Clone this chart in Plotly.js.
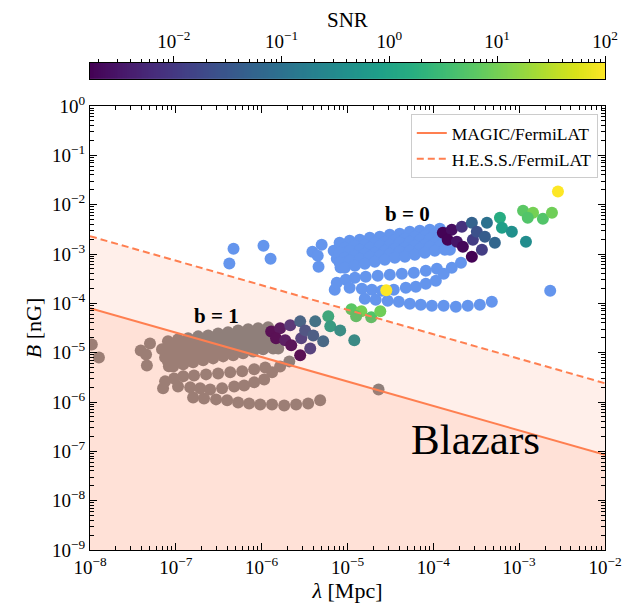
<!DOCTYPE html>
<html><head><meta charset="utf-8">
<script src="https://cdn.plot.ly/plotly-3.0.1.min.js"></script>
<style>html,body{margin:0;padding:0;background:#fff}#chart{width:628px;height:606px}</style>
</head><body><div id="chart"></div>
<script>
// ---------- data: b = 0 (no SNR, drawn in flat blue) ----------
const b0BlueLam = [
4.7e-7,4.2e-7,1.05e-6,1.27e-6,3.9e-6,5.0e-6,4.5e-6,4.6e-6,7.1e-6,2.3e-3,4.8e-4,
6.9e-6,7.5e-6,8.3e-6,1.56e-4,
8.1e-6,1.06e-5,1.39e-5,1.82e-5,2.38e-5,3.11e-5,4.06e-5,5.32e-5,6.96e-5,9.1e-5,1.19e-4,
9.3e-6,1.22e-5,1.59e-5,2.08e-5,2.72e-5,3.56e-5,4.66e-5,6.08e-5,7.96e-5,1.04e-4,1.36e-4,
8.1e-6,1.06e-5,1.39e-5,1.82e-5,2.38e-5,3.11e-5,4.06e-5,5.32e-5,6.96e-5,9.1e-5,1.19e-4,
9.3e-6,1.22e-5,1.59e-5,2.08e-5,2.72e-5,3.56e-5,4.66e-5,6.08e-5,7.96e-5,1.04e-4,1.36e-4,
8.1e-6,1.06e-5,1.39e-5,1.82e-5,2.38e-5,3.11e-5,4.06e-5,5.32e-5,6.96e-5,9.1e-5,1.19e-4,
9.3e-6,1.22e-5,1.59e-5,2.08e-5,2.72e-5,3.56e-5,4.66e-5,6.08e-5,7.96e-5,1.04e-4,1.36e-4,
7.5e-6,9.55e-6,1.22e-5,1.63e-5,2.25e-5,3.11e-5,4.3e-5,5.93e-5,8.18e-5,1.1e-4,
1.06e-5,1.47e-5,1.92e-5,2.51e-5,3.46e-5,4.78e-5,6.25e-5,8.18e-5,1.07e-4,1.32e-4,1.64e-4,2.1e-4,
1.59e-5,2.13e-5,2.94e-5,3.96e-5,5.32e-5,7.14e-5,9.62e-5,1.32e-4,1.83e-4,2.52e-4,3.48e-4];
const b0BlueB = [
1.28e-3,6.4e-4,1.47e-3,8.0e-4,1.11e-3,1.54e-3,9.2e-4,5.5e-4,1.89e-4,1.8e-4,1.08e-4,
1.17e-3,8.0e-4,5.3e-4,1.22e-3,
1.70e-3,1.86e-3,1.95e-3,2.14e-3,2.24e-3,2.46e-3,2.58e-3,2.83e-3,2.97e-3,3.11e-3,3.26e-3,
1.34e-3,1.47e-3,1.54e-3,1.70e-3,1.78e-3,1.95e-3,2.04e-3,2.24e-3,2.35e-3,2.58e-3,2.70e-3,
1.06e-3,1.17e-3,1.22e-3,1.34e-3,1.47e-3,1.54e-3,1.70e-3,1.78e-3,1.95e-3,2.04e-3,2.24e-3,
8.41e-4,9.24e-4,1.01e-3,1.06e-3,1.17e-3,1.28e-3,1.34e-3,1.47e-3,1.54e-3,1.70e-3,1.86e-3,
6.66e-4,7.31e-4,8.03e-4,8.82e-4,9.24e-4,1.01e-3,1.11e-3,1.17e-3,1.28e-3,1.41e-3,1.47e-3,
5.27e-4,5.79e-4,6.36e-4,6.98e-4,7.66e-4,8.41e-4,8.82e-4,9.68e-4,1.06e-3,1.17e-3,1.22e-3,
2.62e-4,3.01e-4,3.31e-4,3.46e-4,3.63e-4,3.80e-4,3.99e-4,4.18e-4,4.59e-4,5.03e-4,
2.07e-4,1.98e-4,1.89e-4,1.80e-4,1.89e-4,2.07e-4,2.17e-4,2.50e-4,2.87e-4,3.99e-4,5.27e-4,6.66e-4,
1.24e-4,1.18e-4,1.13e-4,1.08e-4,9.81e-5,9.37e-5,8.94e-5,8.94e-5,8.53e-5,8.94e-5,9.37e-5];

// ---------- data: b = 0 with SNR ----------
const b0SnrLam = [1.29e-4,1.64e-4,2.15e-4,2.81e-4,4.21e-4,5.97e-4,6.30e-4,8.22e-4,1.20e-3,1.11e-3,1.45e-3,1.26e-3,1.89e-3,2.41e-3,2.83e-3,1.47e-4,1.88e-4,2.21e-4,2.81e-4,3.68e-4,2.89e-4,3.21e-4,3.99e-4,5.21e-4];
const b0SnrB   = [2.70e-3,3.11e-3,3.58e-3,4.31e-3,4.31e-3,5.45e-3,3.42e-3,2.83e-3,1.78e-3,7.55e-3,6.88e-3,5.45e-3,5.20e-3,6.88e-3,1.84e-2,1.95e-3,1.78e-3,1.41e-3,8.82e-4,1.22e-3,1.95e-3,2.83e-3,2.24e-3,1.70e-3];
const b0Snr    = [0.0018,0.0025,0.008,0.05,0.1,1.5,0.8,0.4,0.35,6,10,5,5,9,100,0.0018,0.003,0.002,0.0017,0.012,0.012,0.025,0.04,0.06];

// ---------- data: b = 1 (no SNR, drawn in grey) ----------
const b1GreyLam = [
4.7e-9,4.2e-9,1.05e-8,1.27e-8,3.9e-8,5.0e-8,4.5e-8,4.6e-8,7.1e-8,2.3e-5,4.8e-6,
6.9e-8,7.5e-8,8.3e-8,1.56e-6,
8.1e-8,1.06e-7,1.39e-7,1.82e-7,2.38e-7,3.11e-7,4.06e-7,5.32e-7,6.96e-7,9.1e-7,1.19e-6,
9.3e-8,1.22e-7,1.59e-7,2.08e-7,2.72e-7,3.56e-7,4.66e-7,6.08e-7,7.96e-7,1.04e-6,1.36e-6,
8.1e-8,1.06e-7,1.39e-7,1.82e-7,2.38e-7,3.11e-7,4.06e-7,5.32e-7,6.96e-7,9.1e-7,1.19e-6,
9.3e-8,1.22e-7,1.59e-7,2.08e-7,2.72e-7,3.56e-7,4.66e-7,6.08e-7,7.96e-7,1.04e-6,1.36e-6,
8.1e-8,1.06e-7,1.39e-7,1.82e-7,2.38e-7,3.11e-7,4.06e-7,5.32e-7,6.96e-7,9.1e-7,1.19e-6,
9.3e-8,1.22e-7,1.59e-7,2.08e-7,2.72e-7,3.56e-7,4.66e-7,6.08e-7,7.96e-7,1.04e-6,1.36e-6,
7.5e-8,9.55e-8,1.22e-7,1.63e-7,2.25e-7,3.11e-7,4.3e-7,5.93e-7,8.18e-7,1.1e-6,
1.06e-7,1.47e-7,1.92e-7,2.51e-7,3.46e-7,4.78e-7,6.25e-7,8.18e-7,1.07e-6,1.32e-6,1.64e-6,2.1e-6,
1.59e-7,2.13e-7,2.94e-7,3.96e-7,5.32e-7,7.14e-7,9.62e-7,1.32e-6,1.83e-6,2.52e-6,3.48e-6];
const b1GreyB = [
1.28e-5,6.4e-6,1.47e-5,8.0e-6,1.11e-5,1.54e-5,9.2e-6,5.5e-6,1.89e-6,1.8e-6,1.08e-6,
1.17e-5,8.0e-6,5.3e-6,1.22e-5,
1.70e-5,1.86e-5,1.95e-5,2.14e-5,2.24e-5,2.46e-5,2.58e-5,2.83e-5,2.97e-5,3.11e-5,3.26e-5,
1.34e-5,1.47e-5,1.54e-5,1.70e-5,1.78e-5,1.95e-5,2.04e-5,2.24e-5,2.35e-5,2.58e-5,2.70e-5,
1.06e-5,1.17e-5,1.22e-5,1.34e-5,1.47e-5,1.54e-5,1.70e-5,1.78e-5,1.95e-5,2.04e-5,2.24e-5,
8.41e-6,9.24e-6,1.01e-5,1.06e-5,1.17e-5,1.28e-5,1.34e-5,1.47e-5,1.54e-5,1.70e-5,1.86e-5,
6.66e-6,7.31e-6,8.03e-6,8.82e-6,9.24e-6,1.01e-5,1.11e-5,1.17e-5,1.28e-5,1.41e-5,1.47e-5,
5.27e-6,5.79e-6,6.36e-6,6.98e-6,7.66e-6,8.41e-6,8.82e-6,9.68e-6,1.06e-5,1.17e-5,1.22e-5,
2.62e-6,3.01e-6,3.31e-6,3.46e-6,3.63e-6,3.80e-6,3.99e-6,4.18e-6,4.59e-6,5.03e-6,
2.07e-6,1.98e-6,1.89e-6,1.80e-6,1.89e-6,2.07e-6,2.17e-6,2.50e-6,2.87e-6,3.99e-6,5.27e-6,6.66e-6,
1.24e-6,1.18e-6,1.13e-6,1.08e-6,9.81e-7,9.37e-7,8.94e-7,8.94e-7,8.53e-7,8.94e-7,9.37e-7];

// ---------- data: b = 1 with SNR ----------
const b1SnrLam = [1.29e-6,1.64e-6,2.15e-6,2.81e-6,4.21e-6,5.97e-6,6.30e-6,8.22e-6,1.20e-5,1.11e-5,1.45e-5,1.26e-5,1.89e-5,2.41e-5,2.83e-5,1.47e-6,1.88e-6,2.21e-6,2.81e-6,3.68e-6,2.89e-6,3.21e-6,3.99e-6,5.21e-6];
const b1SnrB   = [2.70e-5,3.11e-5,3.58e-5,4.31e-5,4.31e-5,5.45e-5,3.42e-5,2.83e-5,1.78e-5,7.55e-5,6.88e-5,5.45e-5,5.20e-5,6.88e-5,1.84e-4,1.95e-5,1.78e-5,1.41e-5,8.82e-6,1.22e-5,1.95e-5,2.83e-5,2.24e-5,1.70e-5];
const b1Snr    = [0.0018,0.0025,0.008,0.05,0.1,1.5,0.8,0.4,0.35,6,10,5,5,9,100,0.0018,0.003,0.002,0.0017,0.012,0.012,0.025,0.04,0.06];

// ---------- exclusion lines ----------
const limitLam = [1e-8, 1e-2];
const magicB   = [8.0e-5, 8.5e-8];
const hessB    = [2.3e-3, 2.4e-6];

// ---------- ticks ----------
const lamTickVals = [1e-8,1e-7,1e-6,1e-5,1e-4,1e-3,1e-2];
const lamTickText = ['10<sup>−8</sup>','10<sup>−7</sup>','10<sup>−6</sup>','10<sup>−5</sup>','10<sup>−4</sup>','10<sup>−3</sup>','10<sup>−2</sup>'];
const bTickVals = [1e-9,1e-8,1e-7,1e-6,1e-5,1e-4,1e-3,1e-2,1e-1,1];
const bTickText = ['10<sup>−9</sup>','10<sup>−8</sup>','10<sup>−7</sup>','10<sup>−6</sup>','10<sup>−5</sup>','10<sup>−4</sup>','10<sup>−3</sup>','10<sup>−2</sup>','10<sup>−1</sup>','10<sup>0</sup>'];
const snrTickVals = [-2,-1,0,1,2];
const snrTickText = ['10<sup>−2</sup>','10<sup>−1</sup>','10<sup>0</sup>','10<sup>1</sup>','10<sup>2</sup>'];
const snrLogMin = -2.777, snrLogMax = 2;

// minor tick positions
function minorLog(e0, e1){const v=[];for(let e=e0;e<e1;e++)for(let k=2;k<=9;k++)v.push(k*Math.pow(10,e));return v;}
const lamMinor = minorLog(-8,-2), bMinor = minorLog(-9,0);
const snrMinor = []; for(let e=-3;e<2;e++)for(let k=2;k<=9;k++){const v=e+Math.log10(k); if(v>snrLogMin&&v<snrLogMax) snrMinor.push(v);}
const cbX = []; for(let i=0;i<=300;i++) cbX.push(snrLogMin+(snrLogMax-snrLogMin)*i/300);

const coral = '#FF7F50';
const mk = (x,y,color,extra) => Object.assign({type:'scatter',mode:'markers',x,y,showlegend:false,hoverinfo:'skip',cliponaxis:true,marker:Object.assign({size:12,color,line:{width:0}},extra||{})});
const traces = [
  mk(b0BlueLam,b0BlueB,'#6495ED'),
  mk(b1GreyLam,b1GreyB,'#808080'),
  mk(b0SnrLam,b0SnrB,b0Snr.map(Math.log10),{colorscale:'Viridis',cmin:snrLogMin,cmax:snrLogMax,showscale:false}),
  mk(b1SnrLam,b1SnrB,b1Snr.map(Math.log10),{colorscale:'Viridis',cmin:snrLogMin,cmax:snrLogMax,showscale:false}),
  {type:'scatter',mode:'none',x:[limitLam[0],limitLam[1],limitLam[1],limitLam[0]],y:[magicB[0],magicB[1],1e-9,1e-9],fill:'toself',fillcolor:'rgba(255,127,80,0.12)',showlegend:false,hoverinfo:'skip'},
  {type:'scatter',mode:'none',x:[limitLam[0],limitLam[1],limitLam[1],limitLam[0]],y:[hessB[0],hessB[1],1e-9,1e-9],fill:'toself',fillcolor:'rgba(255,127,80,0.12)',showlegend:false,hoverinfo:'skip'},
  {type:'scatter',mode:'lines',x:limitLam,y:magicB,line:{color:coral,width:2},name:'MAGIC/FermiLAT'},
  {type:'scatter',mode:'lines',x:limitLam,y:hessB,line:{color:coral,width:2,dash:'7px,4px'},name:'H.E.S.S./FermiLAT'},
  {type:'heatmap',x:cbX,y:[0],z:[cbX],xaxis:'x2',yaxis:'y2',colorscale:'Viridis',zmin:snrLogMin,zmax:snrLogMax,showscale:false,hoverinfo:'skip'}
];

const serif = 'Liberation Serif, DejaVu Serif, serif';
const axBase = {showline:true,linecolor:'black',linewidth:1,mirror:'allticks',ticks:'inside',ticklen:7,tickwidth:1,tickcolor:'black',showgrid:false,zeroline:false,tickmode:'array'};
const layout = {
  width:628,height:606,margin:{l:90,r:23,t:10,b:56},
  paper_bgcolor:'white',plot_bgcolor:'white',
  font:{family:serif,size:19,color:'black'},
  showlegend:true,
  legend:{x:0.986,y:0.807,xanchor:'right',yanchor:'top',bgcolor:'rgba(255,255,255,0.8)',bordercolor:'#cccccc',borderwidth:1,font:{size:17.5},tracegroupgap:2},
  xaxis:Object.assign({},axBase,{type:'log',range:[-8,-2],domain:[0,1],anchor:'y',tickvals:lamTickVals,ticktext:lamTickText,
     minor:{tickmode:'array',tickvals:lamMinor,ticks:'inside',ticklen:4,tickcolor:'black',showgrid:false},
     title:{text:'<i>λ</i> [Mpc]',font:{size:22},standoff:4}}),
  yaxis:Object.assign({},axBase,{type:'log',range:[-9,0],domain:[0,0.8222],anchor:'x',tickvals:bTickVals,ticktext:bTickText,
     minor:{tickmode:'array',tickvals:bMinor,ticks:'inside',ticklen:4,tickcolor:'black',showgrid:false},
     title:{text:'<i>B</i> [nG]',font:{size:22},standoff:4}}),
  xaxis2:{anchor:'y2',side:'top',range:[snrLogMin,snrLogMax],domain:[0,1],tickmode:'array',tickvals:snrTickVals,ticktext:snrTickText,
     ticks:'outside',ticklen:6,tickcolor:'black',showline:true,mirror:true,linecolor:'black',linewidth:1,showgrid:false,zeroline:false,
     minor:{tickmode:'array',tickvals:snrMinor,ticks:'outside',ticklen:3,tickcolor:'black',showgrid:false}},
  yaxis2:{anchor:'x2',domain:[0.872,0.902],range:[-0.5,0.5],showticklabels:false,ticks:'',showline:true,mirror:true,linecolor:'black',linewidth:1,showgrid:false,zeroline:false},
  annotations:[
    {xref:'paper',yref:'paper',x:0.5,y:0.9815,text:'SNR',showarrow:false,font:{size:21},yanchor:'middle'},
    {xref:'x',yref:'y',x:-4.30,y:-2.18,text:'<b>b = 0</b>',showarrow:false,font:{size:21}},
    {xref:'x',yref:'y',x:-6.525,y:-4.25,text:'<b>b = 1</b>',showarrow:false,font:{size:21}},
    {xref:'x',yref:'y',x:-3.504,y:-6.77,text:'Blazars',showarrow:false,font:{size:43}}
  ]
};
Plotly.newPlot('chart',traces,layout,{staticPlot:true,displayModeBar:false});
</script></body></html>
